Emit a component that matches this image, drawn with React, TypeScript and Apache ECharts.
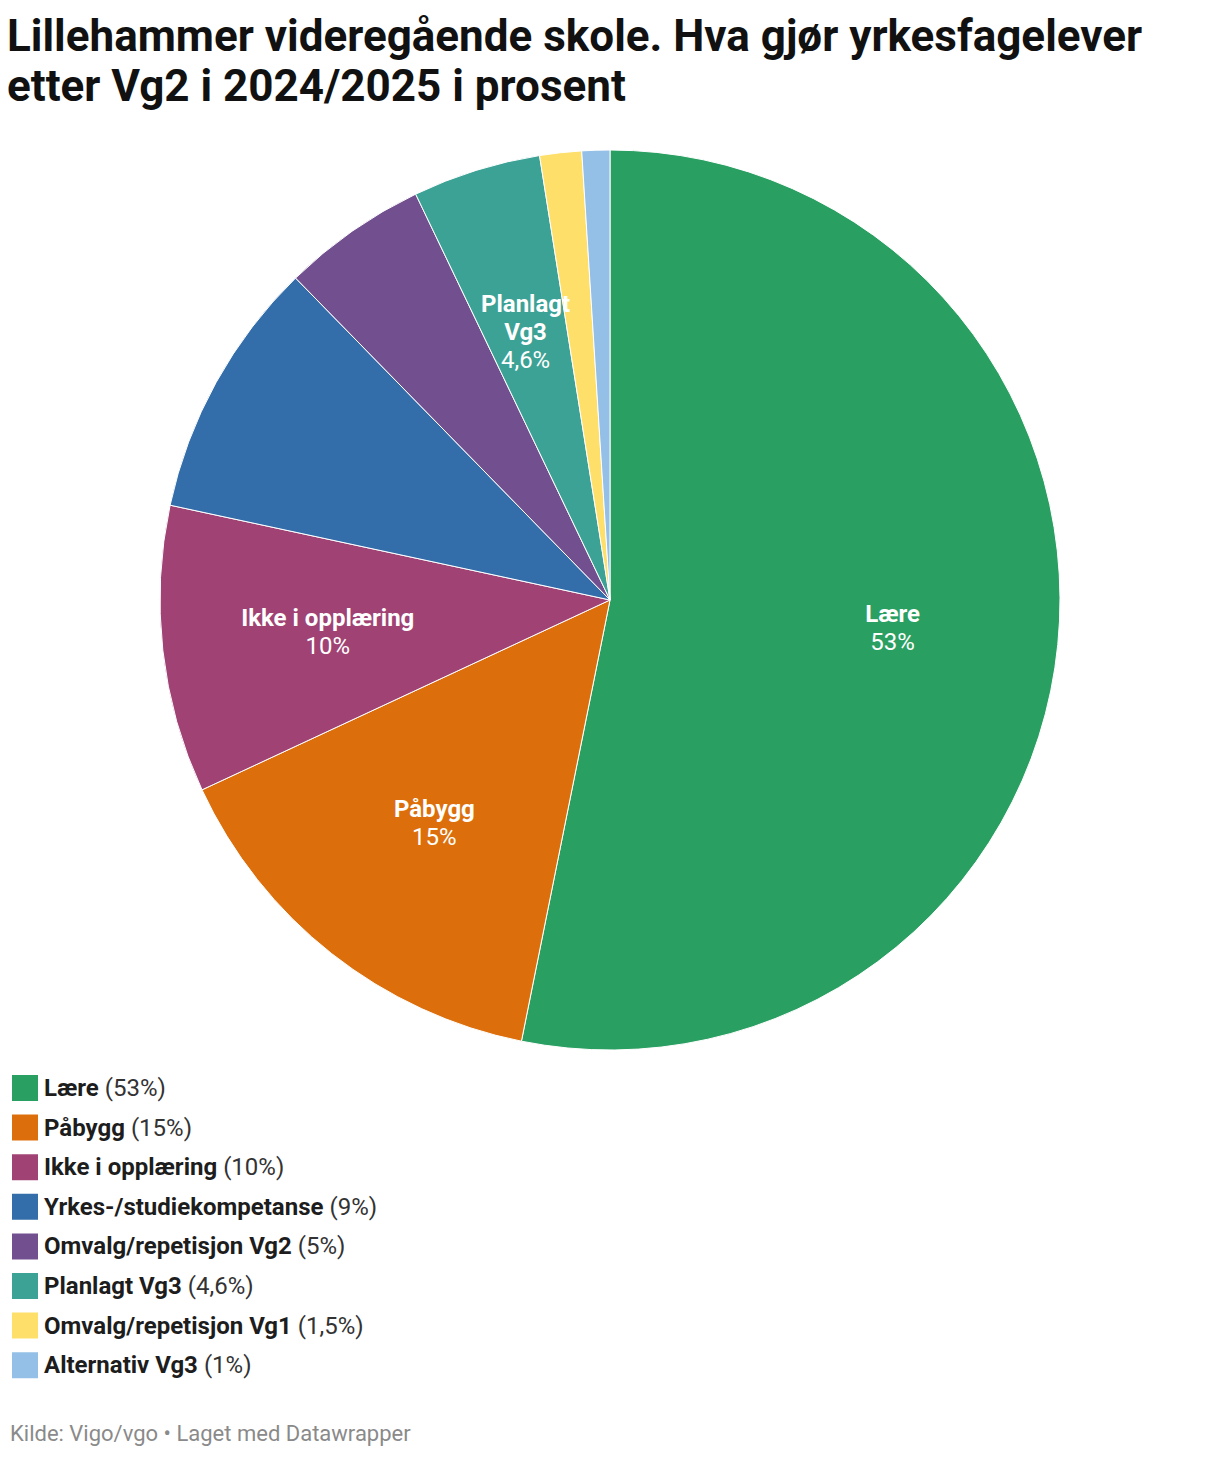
import React, { useEffect, useRef } from 'react';
import * as echarts from 'echarts';

const categories = [
  'Lære',
  'Påbygg',
  'Ikke i opplæring',
  'Yrkes-/studiekompetanse',
  'Omvalg/repetisjon Vg2',
  'Planlagt Vg3',
  'Omvalg/repetisjon Vg1',
  'Alternativ Vg3',
];
// slice shares (unrounded)
const values = [53.1, 14.9, 10.3, 9.3, 5.2, 4.6, 1.5, 1.0];
// shares as printed in the chart
const printed = ['53%', '15%', '10%', '9%', '5%', '4,6%', '1,5%', '1%'];
const colors = ['#2a9f62', '#dc6f0b', '#a04274', '#336eab', '#724f8e', '#3ca296', '#fddf6a', '#94c0e7'];
// labels drawn inside the slice (some are wrapped)
const sliceLabels: Record<string, string> = {
  'Lære': 'Lære',
  'Påbygg': 'Påbygg',
  'Ikke i opplæring': 'Ikke i opplæring',
  'Planlagt Vg3': 'Planlagt\nVg3',
};

const App: React.FC = () => {
  const chartRef = useRef<HTMLDivElement>(null);

  useEffect(() => {
    if (!chartRef.current) return;
    const chart = echarts.init(chartRef.current, undefined, { renderer: 'svg' });
    const font = 'Roboto, "Noto Sans", sans-serif';

    const data = categories.map((name, i) => ({
      name,
      value: values[i],
      itemStyle: { color: colors[i] },
    }));

    chart.setOption({
      animation: false,
      textStyle: { fontFamily: font },
      title: {
        text: 'Lillehammer videregående skole. Hva gjør yrkesfagelever\netter Vg2 i 2024/2025 i prosent',
        left: -1,
        top: 3,
        padding: 0,
        textStyle: {
          fontFamily: font,
          fontSize: 44,
          fontWeight: 'bold',
          color: '#111',
          lineHeight: 50,
        },
      },
      legend: {
        orient: 'vertical',
        left: 2,
        top: 1065,
        padding: 0,
        icon: 'rect',
        itemWidth: 28,
        itemHeight: 28,
        itemGap: 9.6,
        data: categories,
        selectedMode: false,
        formatter: (name: string) => {
          const i = categories.indexOf(name);
          return `{n|${name}}{v|(${printed[i]})}`;
        },
        textStyle: {
          rich: {
            n: { fontFamily: font, fontSize: 24, fontWeight: 'bold', color: '#1d1d1d', lineHeight: 28 },
            v: { fontFamily: font, fontSize: 24, color: '#333', lineHeight: 28, padding: [0, 0, 0, 6] },
          },
        },
      },
      graphic: [
        {
          type: 'text',
          left: 2,
          top: 1414,
          style: {
            text: 'Kilde: Vigo/vgo • Laget med Datawrapper',
            fontFamily: font,
            fontSize: 22,
            fill: '#8a8a8a',
          },
        },
      ],
      series: [
        {
          type: 'pie',
          center: [602, 592],
          radius: [0, 450],
          startAngle: 90,
          clockwise: true,
          silent: true,
          label: { show: false },
          labelLine: { show: false },
          itemStyle: { borderColor: '#fff', borderWidth: 1 },
          data,
        },
        {
          // transparent copy used only to place labels at ~62% of the radius
          type: 'pie',
          center: [602, 592],
          radius: [112, 450],
          startAngle: 90,
          clockwise: true,
          silent: true,
          itemStyle: { color: 'transparent', borderWidth: 0 },
          labelLine: { show: false },
          label: {
            show: true,
            position: 'inside',
            formatter: (p: any) => {
              const t = sliceLabels[p.name];
              if (!t) return '';
              return t
                .split('\n')
                .map((s) => `{n|${s}}`)
                .join('\n') + `\n{v|${printed[p.dataIndex]}}`;
            },
            rich: {
              n: { fontFamily: font, fontSize: 24, fontWeight: 'bold', color: '#fff', lineHeight: 28 },
              v: { fontFamily: font, fontSize: 24, color: '#fff', lineHeight: 28 },
            },
          },
          data: categories.map((name, i) =>
            name === 'Planlagt Vg3'
              ? { name, value: values[i], label: { offset: [0, 3] } }
              : { name, value: values[i] }
          ),
        },
      ],
    });

    return () => chart.dispose();
  }, []);

  return <div ref={chartRef} style={{ width: 1204, height: 1442, background: '#fff' }} />;
};

export default App;
